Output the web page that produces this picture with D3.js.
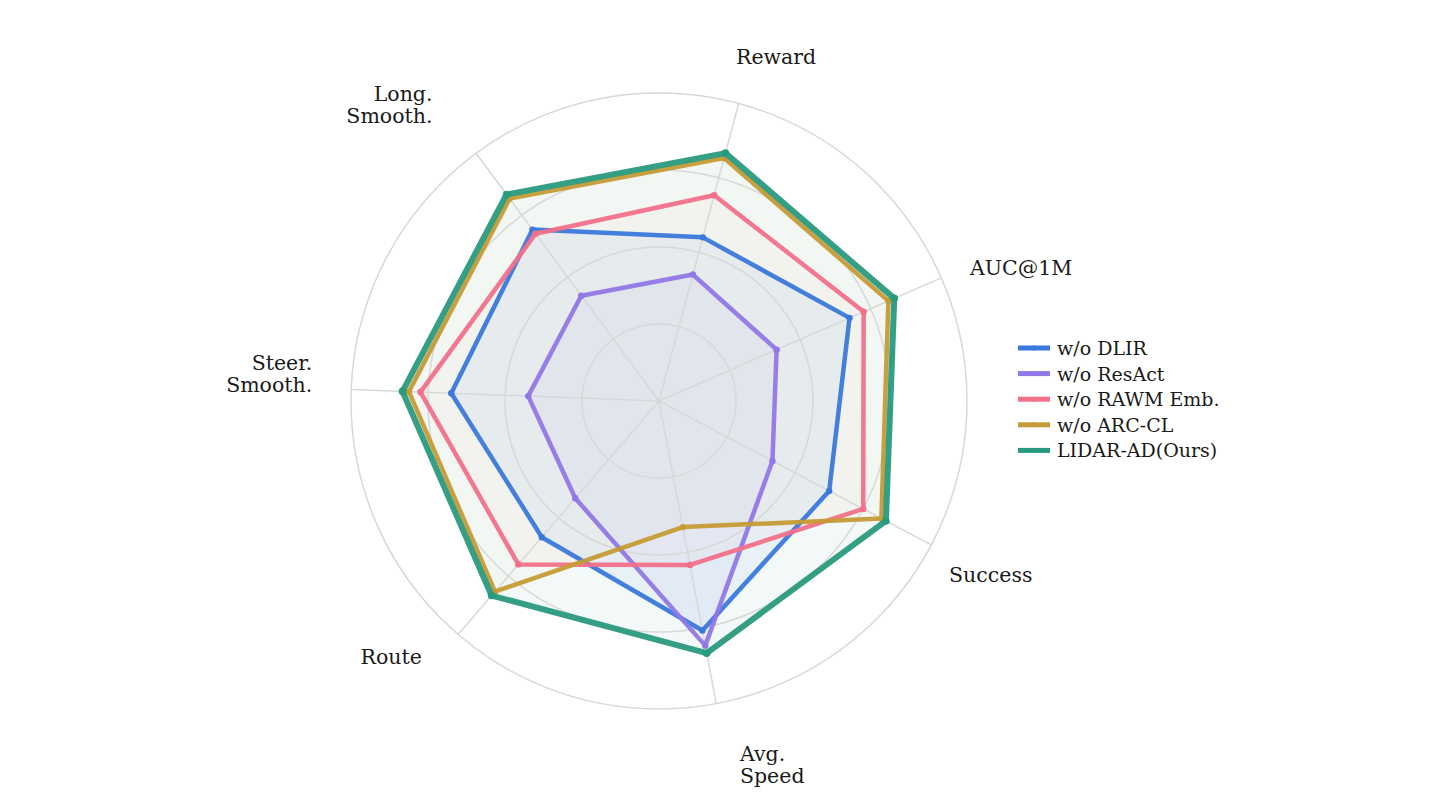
<!DOCTYPE html>
<html>
<head>
<meta charset="utf-8">
<script src="https://cdn.jsdelivr.net/npm/d3@7"></script>
<style>
    body { margin: 0; background: #ffffff; }
    svg { font-family: "DejaVu Serif", serif; }
</style>
</head>
<body>
<div id="radar_chart"></div>
<script>
// axis names (lines of each label)
let categories = [
    ['Reward'],
    ['AUC@1M'],
    ['Success'],
    ['Avg.', 'Speed'],
    ['Route'],
    ['Steer.', 'Smooth.'],
    ['Long.', 'Smooth.']
];

// series names, in drawing order
let seriesNames = ['w/o DLIR', 'w/o ResAct', 'w/o RAWM Emb.', 'w/o ARC-CL', 'LIDAR-AD(Ours)'];

// normalised scores per axis (same order as categories)
let dlirValues   = [0.66, 0.81, 0.75, 0.91, 0.70, 0.81, 0.83];
let resactValues = [0.51, 0.50, 0.50, 0.97, 0.50, 0.51, 0.51];
let rawmValues   = [0.83, 0.87, 0.90, 0.65, 0.84, 0.93, 0.81];
let arcclValues  = [0.98, 0.975, 0.98, 0.50, 0.98, 0.975, 0.98];
let oursValues   = [1.0, 1.0, 1.0, 1.0, 1.0, 1.0, 1.0];

// radial grid rings
let ringTicks = [0.3, 0.6, 0.9, 1.2];

let config = {
    svg: { width: 1432, height: 802 },
    center: { x: 659, y: 401 },
    radius: 308,
    rotation: 15,       // first axis, degrees clockwise from north
    colors: ['#3a78dc', '#9178e6', '#f27089', '#c59b35', '#2a9a7f'],
    fillOpacity: [0.06, 0.05, 0.03, 0.025, 0.055],
    widths: [4.5, 4.5, 4.5, 4.5, 6],
    legend: { x: 1018, y: 348, step: 25.6 }
};

// small nudges so the axis labels sit where the original put them
let labelNudge = [[-10, -12], [3, 8], [-7, 24], [18.5, 30], [-18, 8], [-11, -18.5], [-27, -29.5]];

let seriesValues = [dlirValues, resactValues, rawmValues, arcclValues, oursValues];

let svg = d3.select('#radar_chart')
    .append('svg')
        .attr('width', config.svg.width)
        .attr('height', config.svg.height);

let plot = svg.append('g')
        .attr('id', 'plot')
        .attr('transform', translate(config.center.x, config.center.y));

// scales
let r = d3.scaleLinear().domain([0, 1.2]).range([0, config.radius]);
let angle = d3.scalePoint()
    .domain(d3.range(categories.length))
    .range([0, 360 - 360 / categories.length]);

function ang(i) {
    return (config.rotation + angle(i)) * Math.PI / 180;
}
function px(i, v) { return Math.sin(ang(i)) * r(v); }
function py(i, v) { return -Math.cos(ang(i)) * r(v); }

// series fills (under the grid lines)
let line = d3.lineRadial()
    .angle((d, i) => ang(i))
    .radius((d) => r(d))
    .curve(d3.curveLinearClosed);

plot.append('g').attr('class', 'fills')
    .selectAll('path')
    .data(seriesValues)
    .enter()
    .append('path')
        .attr('d', (d) => line(d))
        .attr('fill', (d, s) => config.colors[s])
        .attr('fill-opacity', (d, s) => config.fillOpacity[s])
        .attr('stroke', 'none');

// grid rings
plot.append('g').attr('class', 'rings')
    .selectAll('circle')
    .data(ringTicks)
    .enter()
    .append('circle')
        .attr('r', (d) => r(d))
        .attr('fill', 'none')
        .attr('stroke', '#d8d8d8')
        .attr('stroke-width', 1.5);

// spokes
plot.append('g').attr('class', 'spokes')
    .selectAll('line')
    .data(categories)
    .enter()
    .append('line')
        .attr('x1', 0)
        .attr('y1', 0)
        .attr('x2', (d, i) => px(i, 1.2))
        .attr('y2', (d, i) => py(i, 1.2))
        .attr('stroke', '#d8d8d8')
        .attr('stroke-width', 1.5);

// series outlines and markers
seriesValues.forEach((vals, s) => {
    let g = plot.append('g').attr('class', 'series');
    g.append('path')
        .attr('d', line(vals))
        .attr('fill', 'none')
        .attr('stroke', config.colors[s])
        .attr('stroke-width', config.widths[s])
        .attr('stroke-linejoin', 'round')
        .attr('stroke-opacity', 0.95);
    g.selectAll('circle')
        .data(vals)
        .enter()
        .append('circle')
            .attr('cx', (d, i) => px(i, d))
            .attr('cy', (d, i) => py(i, d))
            .attr('r', s === 4 ? 3.8 : 3.2)
            .attr('fill', config.colors[s]);
});

// axis labels
let labels = plot.append('g').attr('class', 'axis-labels');
categories.forEach((lines, i) => {
    let sx = Math.sin(ang(i));
    let anchor = sx > 0.05 ? 'start' : (sx < -0.05 ? 'end' : 'middle');
    let t = labels.append('text')
        .attr('x', px(i, 1.2) + sx * 28 + labelNudge[i][0])
        .attr('y', py(i, 1.2) - Math.cos(ang(i)) * 28 + labelNudge[i][1])
        .attr('text-anchor', anchor)
        .style('font-size', '20.5px')
        .style('fill', '#1a1a1a');
    lines.forEach((l, k) => {
        t.append('tspan')
            .attr('x', t.attr('x'))
            .attr('dy', k === 0 ? 0 : 22)
            .text(l);
    });
});

// legend
let legend = svg.append('g')
        .attr('class', 'legend')
        .attr('transform', translate(config.legend.x, config.legend.y));

seriesNames.forEach((name, s) => {
    let row = legend.append('g').attr('transform', translate(0, s * config.legend.step));
    row.append('line')
        .attr('x1', 0).attr('x2', 32)
        .attr('y1', 0).attr('y2', 0)
        .attr('stroke', config.colors[s])
        .attr('stroke-width', 5);
    row.append('circle')
        .attr('cx', 16).attr('cy', 0).attr('r', 2.5)
        .attr('fill', config.colors[s]);
    row.append('text')
        .attr('x', 39)
        .attr('y', 7)
        .style('font-size', '19px')
        .style('fill', '#1a1a1a')
        .text(name);
});

// helper method to make translating easier
function translate(x, y) {
    return 'translate(' + x + ',' + y + ')';
}
</script>
</body>
</html>
